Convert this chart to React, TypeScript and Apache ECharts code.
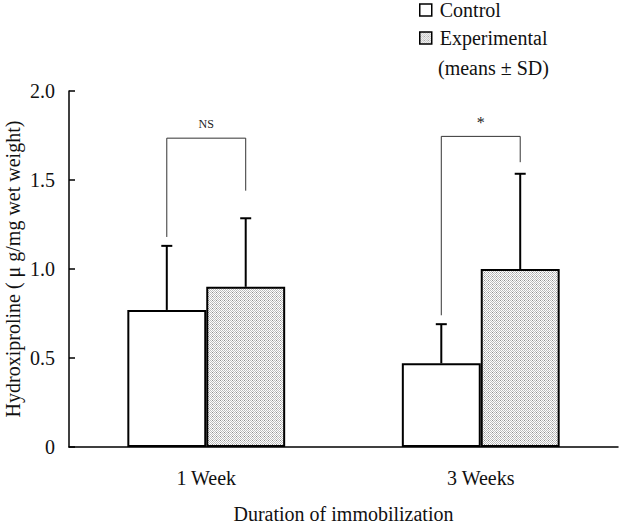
import React, { useEffect, useRef } from "react";
import * as echarts from "echarts";

const categories = ["1 Week", "3 Weeks"];
const seriesNames = ["Control", "Experimental"];
const controlMean = [0.77, 0.47];
const controlSD = [0.36, 0.22];
const expMean = [0.9, 1.0];
const expSD = [0.385, 0.535];
const bracketTop = [1.735, 1.745];
const bracketLeftBottom = [1.18, 0.74];
const bracketRightBottom = [1.44, 1.6];
const bracketLabels = ["NS", "*"];
const yTicks = [0, 0.5, 1.0, 1.5, 2.0];

const FONT = "Liberation Serif";
const FS = 20;
const BAR_FRAC = 0.2875;

function makePattern(): HTMLCanvasElement {
  const c = document.createElement("canvas");
  c.width = 4;
  c.height = 4;
  const ctx = c.getContext("2d")!;
  ctx.fillStyle = "#ffffff";
  ctx.fillRect(0, 0, 4, 4);
  ctx.fillStyle = "#bdbdbd";
  for (let y = 0; y < 4; y++) {
    for (let x = 0; x < 4; x++) {
      if ((x + y) % 2 === 0) ctx.fillRect(x, y, 1, 1);
    }
  }
  ctx.fillStyle = "#8e8e8e";
  ctx.fillRect(0, 0, 1, 1);
  return c;
}

export default function App() {
  const ref = useRef<HTMLDivElement>(null);
  useEffect(() => {
    if (!ref.current) return;
    const chart = echarts.init(ref.current, undefined, { renderer: "svg" });
    const pattern = { image: makePattern(), repeat: "repeat" as const };

    const errorSeries = (means: number[], sds: number[], sign: number) => ({
      type: "custom" as const,
      silent: true,
      z: 5,
      data: means.map((m, i) => [i, m, sds[i]]),
      encode: { x: 0, y: 1 },
      renderItem: (params: any, api: any) => {
        const band = api.size([1, 0])[0];
        const off = (sign * band * BAR_FRAC) / 2;
        const base = api.coord([api.value(0), api.value(1)]);
        const top = api.coord([api.value(0), api.value(1) + api.value(2)]);
        const x = base[0] + off;
        const capHalf = 5.5;
        return {
          type: "group",
          children: [
            {
              type: "line",
              shape: { x1: x, y1: base[1], x2: x, y2: top[1] },
              style: { stroke: "#000", lineWidth: 2 },
            },
            {
              type: "line",
              shape: { x1: x - capHalf, y1: top[1], x2: x + capHalf, y2: top[1] },
              style: { stroke: "#000", lineWidth: 2 },
            },
          ],
        };
      },
    });

    chart.setOption({
      animation: false,
      backgroundColor: "#ffffff",
      grid: { left: 69, right: 2, top: 91, bottom: 77, outerBoundsMode: "none", containLabel: false },
      legend: {
        data: seriesNames,
        orient: "vertical",
        left: 419,
        top: 0,
        padding: 0,
        itemWidth: 12,
        itemHeight: 12,
        itemGap: 8,
        icon: "rect",
        itemStyle: { borderWidth: 1.5, borderColor: "#000" },
        textStyle: { fontFamily: FONT, fontSize: FS, color: "#111", lineHeight: 20, padding: [0, 0, 0, 3] },
      },
      graphic: [
        {
          type: "text",
          left: 438,
          top: 58,
          style: { text: "(means ± SD)", fontFamily: FONT, fontSize: FS, fill: "#111" },
        },
      ],
      xAxis: {
        type: "category",
        data: categories,
        axisLine: { lineStyle: { color: "#000", width: 1.5 } },
        axisTick: { inside: true, length: 5, lineStyle: { color: "#000", width: 1.5 } },
        axisLabel: { fontFamily: FONT, fontSize: FS, color: "#111", margin: 21 },
        name: "Duration of immobilization",
        nameLocation: "middle",
        nameGap: 57,
        nameMoveOverlap: false,
        nameTextStyle: { fontFamily: FONT, fontSize: FS, color: "#111" },
      },
      yAxis: {
        type: "value",
        min: yTicks[0],
        max: yTicks[yTicks.length - 1],
        interval: 0.5,
        splitLine: { show: false },
        axisLine: { show: true, lineStyle: { color: "#000", width: 1.5 } },
        axisTick: { show: true, inside: true, length: 6, lineStyle: { color: "#000", width: 1.5 } },
        axisLabel: {
          fontFamily: FONT,
          fontSize: FS,
          color: "#111",
          margin: 14,
          formatter: (v: number) => (v === 0 ? "0" : v.toFixed(1)),
        },
        name: "Hydroxiproline ( μ g/mg wet weight)",
        nameLocation: "middle",
        nameGap: 46,
        nameMoveOverlap: false,
        nameTextStyle: { fontFamily: FONT, fontSize: FS, color: "#111" },
      },
      series: [
        {
          name: seriesNames[0],
          type: "bar",
          data: controlMean,
          barWidth: BAR_FRAC * 100 + "%",
          barGap: "0%",
          itemStyle: { color: "#ffffff", borderColor: "#000", borderWidth: 2 },
          z: 3,
        },
        {
          name: seriesNames[1],
          type: "bar",
          data: expMean,
          barWidth: BAR_FRAC * 100 + "%",
          barGap: "0%",
          itemStyle: { color: pattern, borderColor: "#000", borderWidth: 2 },
          z: 3,
        },
        errorSeries(controlMean, controlSD, -1),
        errorSeries(expMean, expSD, 1),
        {
          type: "custom",
          silent: true,
          z: 4,
          data: categories.map((_, i) => [i, bracketTop[i], bracketLeftBottom[i], bracketRightBottom[i]]),
          encode: { x: 0, y: 1 },
          renderItem: (params: any, api: any) => {
            const band = api.size([1, 0])[0];
            const off = (band * BAR_FRAC) / 2;
            const c = api.value(0);
            const topP = api.coord([c, api.value(1)]);
            const lb = api.coord([c, api.value(2)]);
            const rb = api.coord([c, api.value(3)]);
            const xl = topP[0] - off;
            const xr = topP[0] + off;
            const label = bracketLabels[params.dataIndex];
            return {
              type: "group",
              children: [
                {
                  type: "polyline",
                  shape: { points: [[xl, lb[1]], [xl, topP[1]], [xr, topP[1]], [xr, rb[1]]] },
                  style: { stroke: "#333", lineWidth: 1, fill: null },
                },
                {
                  type: "text",
                  x: topP[0],
                  y: topP[1] - (label === "*" ? 6 : 8),
                  style: {
                    text: label,
                    fontFamily: FONT,
                    fontSize: label === "*" ? 16 : 12,
                    fill: "#222",
                    align: "center",
                    verticalAlign: "bottom",
                  },
                },
              ],
            };
          },
        },
      ],
    });
    return () => chart.dispose();
  }, []);
  return (
    <div
      ref={ref}
      style={{ position: "fixed", left: 0, top: 0, width: 620, height: 524, background: "#fff" }}
    />
  );
}
